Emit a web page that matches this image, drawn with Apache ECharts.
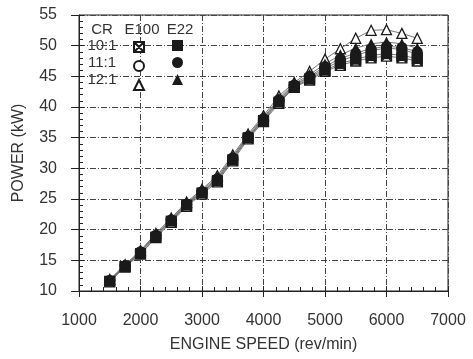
<!DOCTYPE html>
<html>
<head>
<meta charset="utf-8">
<script src="https://cdn.jsdelivr.net/npm/echarts@6/dist/echarts.min.js"></script>
<style>
  html, body { margin: 0; padding: 0; background: #fff; }
  #main { width: 473px; height: 359px; }
</style>
</head>
<body>
<div id="main"></div>
<script>
// engine speed (rev/min)
var speeds = [1500, 1750, 2000, 2250, 2500, 2750, 3000, 3250, 3500, 3750, 4000,
              4250, 4500, 4750, 5000, 5250, 5500, 5750, 6000, 6250, 6500];

// power (kW) per compression ratio / fuel
var cr10E100 = [11.5, 13.9, 16.0, 18.7, 21.2, 23.8, 25.8, 27.8, 31.2, 34.8, 37.6, 40.6, 43.2, 44.4, 45.8, 46.8, 47.5, 48.0, 48.3, 48.0, 47.5];
var cr10E22  = [11.6, 14.0, 16.1, 18.8, 21.4, 24.0, 26.0, 28.0, 31.4, 35.0, 37.8, 40.8, 43.3, 44.6, 46.0, 47.1, 47.8, 48.4, 48.7, 48.4, 47.9];
var cr11E100 = [11.7, 14.1, 16.3, 19.0, 21.5, 24.1, 26.1, 28.2, 31.6, 35.1, 38.0, 41.0, 43.5, 44.8, 46.3, 47.5, 48.4, 49.2, 49.6, 49.4, 48.6];
var cr11E22  = [11.7, 14.1, 16.4, 19.1, 21.6, 24.2, 26.2, 28.3, 31.7, 35.2, 38.1, 41.2, 43.6, 45.0, 46.6, 47.9, 48.8, 49.5, 49.9, 49.7, 49.0];
var cr12E100 = [11.9, 14.3, 16.6, 19.4, 21.9, 24.5, 26.6, 28.8, 32.2, 35.6, 38.6, 41.8, 44.0, 45.8, 47.8, 49.5, 51.2, 52.5, 52.6, 52.0, 51.2];
var cr12E22  = [11.8, 14.2, 16.5, 19.2, 21.7, 24.3, 26.4, 28.5, 31.9, 35.4, 38.3, 41.4, 43.8, 45.3, 47.0, 48.5, 49.6, 50.3, 50.6, 50.3, 49.6];

var crLabels = ['10:1', '11:1', '12:1'];
var fuelLabels = ['CR', 'E100', 'E22'];

var FONT = 'Arial, "Liberation Sans", sans-serif';
var crossSquare = 'path://M0,0H10V10H0ZM0,0L10,10M10,0L0,10';

function pairs(vals) {
  return speeds.map(function (s, i) { return [s, vals[i]]; });
}

function mkSeries(name, vals, symbol, open, size) {
  return {
    name: name,
    type: 'line',
    data: pairs(vals),
    symbol: symbol,
    symbolSize: size,
    showAllSymbol: true,
    animation: false,
    lineStyle: { color: '#777', width: 1 },
    itemStyle: open
      ? { color: '#fff', borderColor: '#1a1a1a', borderWidth: 1.3 }
      : { color: '#1a1a1a', borderColor: '#1a1a1a', borderWidth: 0 }
  };
}

var series = [
  mkSeries('12:1 E100', cr12E100, 'triangle', true, 10),
  mkSeries('11:1 E100', cr11E100, 'circle', true, 10),
  mkSeries('10:1 E100', cr10E100, crossSquare, true, 10),
  mkSeries('12:1 E22', cr12E22, 'triangle', false, 11),
  mkSeries('11:1 E22', cr11E22, 'circle', false, 11),
  mkSeries('10:1 E22', cr10E22, 'rect', false, 11)
];

var gridLine = { color: '#444', width: 1, type: [6, 2, 1, 2] };
var axisCol = '#222';

// legend table text (header + row labels)
var graphics = [];
var colX = [102, 142, 180];
fuelLabels.forEach(function (t, i) {
  graphics.push({ type: 'text', x: colX[i], y: 30,
    style: { text: t, font: '15px ' + FONT, fill: '#333', textAlign: 'center', textVerticalAlign: 'middle' } });
});
crLabels.forEach(function (t, i) {
  graphics.push({ type: 'text', x: 102, y: 46 + i * 17,
    style: { text: t, font: '15px ' + FONT, fill: '#333', textAlign: 'center', textVerticalAlign: 'middle' } });
});

var myChart = echarts.init(document.getElementById('main'));
myChart.setOption({
  backgroundColor: '#fff',
  animation: false,
  grid: { left: 79, right: 25, top: 15, bottom: 68, show: true,
          borderColor: axisCol, borderWidth: 1, backgroundColor: 'transparent' },
  legend: [
    { left: 133, top: 41, orient: 'vertical', itemWidth: 10, itemHeight: 10, itemGap: 7,
      padding: 0, selectedMode: false, formatter: function () { return ''; },
      data: [{ name: '10:1 E100', icon: crossSquare }, { name: '11:1 E100', icon: 'circle' },
             { name: '12:1 E100', icon: 'triangle' }] },
    { left: 172, top: 40, orient: 'vertical', itemWidth: 11, itemHeight: 11, itemGap: 6,
      padding: 0, selectedMode: false, formatter: function () { return ''; },
      data: [{ name: '10:1 E22', icon: 'rect' }, { name: '11:1 E22', icon: 'circle' },
             { name: '12:1 E22', icon: 'triangle' }] }
  ],
  graphic: graphics,
  xAxis: [
    {
      type: 'value', min: 1000, max: 7000, interval: 1000, position: 'bottom',
      name: 'ENGINE SPEED (rev/min)', nameLocation: 'middle', nameGap: 46,
      nameTextStyle: { fontSize: 16, color: '#333', fontFamily: FONT },
      axisLine: { show: true, lineStyle: { color: axisCol, width: 1 } },
      axisTick: { show: true, inside: false, length: 6, lineStyle: { color: axisCol } },
      axisLabel: { fontSize: 16, color: '#333', fontFamily: FONT, margin: 22,
                   formatter: function (v) { return String(v); } },
      splitLine: { show: true, lineStyle: gridLine }
    },
    {
      type: 'value', min: 1000, max: 7000, interval: 1000, position: 'bottom',
      axisLine: { show: false }, axisLabel: { show: false }, splitLine: { show: false },
      axisTick: { show: true, inside: true, length: 5, lineStyle: { color: axisCol } },
      minorTick: { show: true, splitNumber: 5, length: 4, lineStyle: { color: axisCol } }
    }
  ],
  yAxis: [
    {
      type: 'value', min: 10, max: 55, interval: 5, position: 'left',
      name: 'POWER (kW)', nameLocation: 'middle', nameGap: 52,
      nameTextStyle: { fontSize: 16, color: '#333', fontFamily: FONT },
      axisLine: { show: true, lineStyle: { color: axisCol, width: 1 } },
      axisTick: { show: true, inside: false, length: 8, lineStyle: { color: axisCol } },
      axisLabel: { fontSize: 16, color: '#333', fontFamily: FONT, margin: 22 },
      splitLine: { show: true, lineStyle: gridLine }
    },
    {
      type: 'value', min: 10, max: 55, interval: 5, position: 'left',
      axisLine: { show: false }, axisLabel: { show: false }, splitLine: { show: false },
      axisTick: { show: true, inside: true, length: 5, lineStyle: { color: axisCol } },
      minorTick: { show: true, splitNumber: 5, length: 4, lineStyle: { color: axisCol } }
    }
  ],
  series: series
});
</script>
</body>
</html>
